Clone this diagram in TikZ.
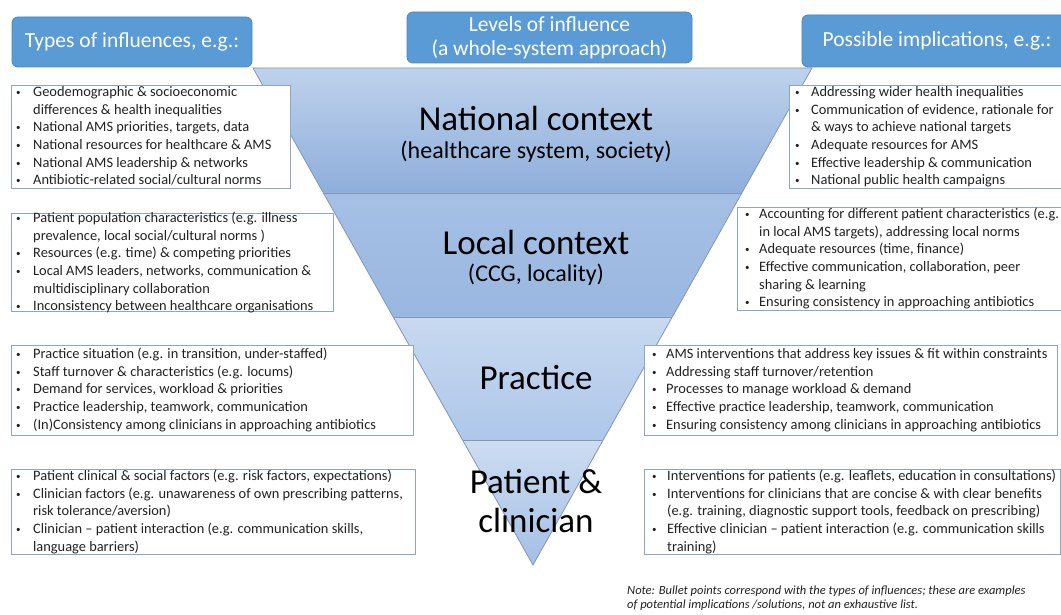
\documentclass[tikz,border=0pt]{standalone}
\usepackage{fontspec}
\setmainfont{Carlito}
\usetikzlibrary{calc}
\definecolor{hdr}{HTML}{5B9BD5}
\definecolor{hdrline}{HTML}{4A86BF}
\definecolor{boxline}{HTML}{8DA7C2}
\definecolor{txt}{HTML}{222222}
\definecolor{divline}{HTML}{8397B2}
\definecolor{natT}{HTML}{BED2EC}
\definecolor{natB}{HTML}{8EAEDB}
\definecolor{locT}{HTML}{A6C0E5}
\definecolor{locB}{HTML}{99B7E0}
\definecolor{praT}{HTML}{C8D9F0}
\definecolor{praB}{HTML}{AEC7E9}
\definecolor{patT}{HTML}{CDDDF1}
\definecolor{patB}{HTML}{A4BFE5}
\newcommand{\bl}{\raisebox{1pt}{\fontsize{9}{9}\selectfont\textbullet}}
\tikzset{
  hdrbox/.style={draw=hdrline, fill=hdr, rounded corners=6pt, line width=0.8pt,
    text=white, font=\fontsize{21.5}{24}\selectfont, align=center, inner sep=0pt},
  infobox/.style={draw=boxline, fill=white, line width=0.9pt, anchor=north west, inner sep=0pt},
  lst/.style={anchor=north west, inner sep=0pt, text=txt, font=\fontsize{14.4}{17.6}\selectfont},
  big/.style={font=\fontsize{35}{40}\selectfont, text=black, inner sep=0pt},
  sub/.style={font=\fontsize{24}{28}\selectfont, text=black, inner sep=0pt},
  divider/.style={draw=divline, line width=0.8pt},
}
\begin{document}
\begin{tikzpicture}[x=1pt,y=-1pt]
\clip (0,0) rectangle (1061,615);
\fill[white] (0,0) rectangle (1061,615);
% triangle geometry
\coordinate (TL) at (253,68);
\coordinate (TR) at (812,68);
\coordinate (A) at (533,565);
\coordinate (L1) at ($(TL)!{125/497}!(A)$);
\coordinate (R1) at ($(TR)!{125/497}!(A)$);
\coordinate (L2) at ($(TL)!{249/497}!(A)$);
\coordinate (R2) at ($(TR)!{249/497}!(A)$);
\coordinate (L3) at ($(TL)!{372/497}!(A)$);
\coordinate (R3) at ($(TR)!{372/497}!(A)$);
\shade[top color=natT, bottom color=natB] (TL) -- (TR) -- (R1) -- (L1) -- cycle;
\shade[top color=locT, bottom color=locB] (L1) -- (R1) -- (R2) -- (L2) -- cycle;
\shade[top color=praT, bottom color=praB] (L2) -- (R2) -- (R3) -- (L3) -- cycle;
\shade[top color=patT, bottom color=patB] (L3) -- (R3) -- (A) -- cycle;
\draw[divider] (TL) -- (TR) -- (A) -- cycle;
\draw[divider] (L1) -- (R1);
\draw[divider] (L2) -- (R2);
\draw[divider] (L3) -- (R3);
% level labels
\node[big] (nat) at (536,118) {National context};
\node[sub] (natsub) at (536,152) {(healthcare system, society)};
\node[big] (loc) at (536,242) {Local context};
\node[sub] (locsub) at (536,275) {(CCG, locality)};
\node[big] (pra) at (536,378) {Practice};
\node[big] (pat1) at (536,482) {Patient \&};
\node[big] (pat2) at (536,520) {clinician};
% headers
\node[hdrbox, minimum width=240, minimum height=50] (h1) at (132,42) {Types of influences, e.g.:};
\node[hdrbox, minimum width=285, minimum height=51] (h2) at (549.5,37.5) {Levels of influence\\(a whole-system approach)};
\node[hdrbox, minimum width=270, minimum height=52] (h3) at (937,41) {Possible implications, e.g.:};
% left boxes
\node[infobox, minimum width=279, minimum height=103] (bL1) at (11,85) {};
\node[infobox, minimum width=322, minimum height=98] (bL2) at (11,213) {};
\node[infobox, minimum width=402, minimum height=90] (bL3) at (11,345) {};
\node[infobox, minimum width=404, minimum height=85] (bL4) at (11,469) {};
% right boxes
\node[infobox, minimum width=280, minimum height=103] (bR1) at (789,85) {};
\node[infobox, minimum width=330, minimum height=103] (bR2) at (737,207) {};
\node[infobox, minimum width=413, minimum height=90] (bR3) at (644,345) {};
\node[infobox, minimum width=416, minimum height=85] (bR4) at (644,469) {};
% left texts
\node[lst] (tL1) at (16,84.2) {\begin{tabular}{@{}p{17pt}@{}l@{}}
\bl & Geodemographic \& socioeconomic\\
 & differences \& health inequalities\\
\bl & National AMS priorities, targets, data\\
\bl & National resources for healthcare \& AMS\\
\bl & National AMS leadership \& networks\\
\bl & Antibiotic-related social/cultural norms
\end{tabular}};
\node[lst] (tL2) at (16,210.2) {\begin{tabular}{@{}p{17pt}@{}l@{}}
\bl & Patient population characteristics (e.g. illness\\
 & prevalence, local social/cultural norms )\\
\bl & Resources (e.g. time) \& competing priorities\\
\bl & Local AMS leaders, networks, communication \&\\
 & multidisciplinary collaboration\\
\bl & Inconsistency between healthcare organisations
\end{tabular}};
\node[lst] (tL3) at (16,346.2) {\begin{tabular}{@{}p{17pt}@{}l@{}}
\bl & Practice situation (e.g. in transition, under-staffed)\\
\bl & Staff turnover \& characteristics (e.g. locums)\\
\bl & Demand for services, workload \& priorities\\
\bl & Practice leadership, teamwork, communication\\
\bl & (In)Consistency among clinicians in approaching antibiotics
\end{tabular}};
\node[lst] (tL4) at (16,468.2) {\begin{tabular}{@{}p{17pt}@{}l@{}}
\bl & Patient clinical \& social factors (e.g. risk factors, expectations)\\
\bl & Clinician factors (e.g. unawareness of own prescribing patterns,\\
 & risk tolerance/aversion)\\
\bl & Clinician -- patient interaction (e.g. communication skills,\\
 & language barriers)
\end{tabular}};
% right texts
\node[lst] (tR1) at (795,84.2) {\begin{tabular}{@{}p{16pt}@{}l@{}}
\bl & Addressing wider health inequalities\\
\bl & Communication of evidence, rationale for\\
 & \& ways to achieve national targets\\
\bl & Adequate resources for AMS\\
\bl & Effective leadership \& communication\\
\bl & National public health campaigns
\end{tabular}};
\node[lst] (tR2) at (745,206.2) {\begin{tabular}{@{}p{14pt}@{}l@{}}
\bl & Accounting for different patient characteristics (e.g.\\
 & in local AMS targets), addressing local norms\\
\bl & Adequate resources (time, finance)\\
\bl & Effective communication, collaboration, peer\\
 & sharing \& learning\\
\bl & Ensuring consistency in approaching antibiotics
\end{tabular}};
\node[lst] (tR3) at (652,346.2) {\begin{tabular}{@{}p{14pt}@{}l@{}}
\bl & AMS interventions that address key issues \& fit within constraints\\
\bl & Addressing staff turnover/retention\\
\bl & Processes to manage workload \& demand\\
\bl & Effective practice leadership, teamwork, communication\\
\bl & Ensuring consistency among clinicians in approaching antibiotics
\end{tabular}};
\node[lst] (tR4) at (652,468.2) {\begin{tabular}{@{}p{15pt}@{}l@{}}
\bl & Interventions for patients (e.g. leaflets, education in consultations)\\
\bl & Interventions for clinicians that are concise \& with clear benefits\\
 & (e.g. training, diagnostic support tools, feedback on prescribing)\\
\bl & Effective clinician -- patient interaction (e.g. communication skills\\
 & training)
\end{tabular}};
% note
\node[anchor=north west, inner sep=0pt, align=left, text=txt,
  font=\itshape\fontsize{12.5}{13.5}\selectfont] (note) at (627,586)
  {Note: Bullet points correspond with the types of influences; these are examples\\
   of potential implications /solutions, not an exhaustive list.};
\end{tikzpicture}
\end{document}
